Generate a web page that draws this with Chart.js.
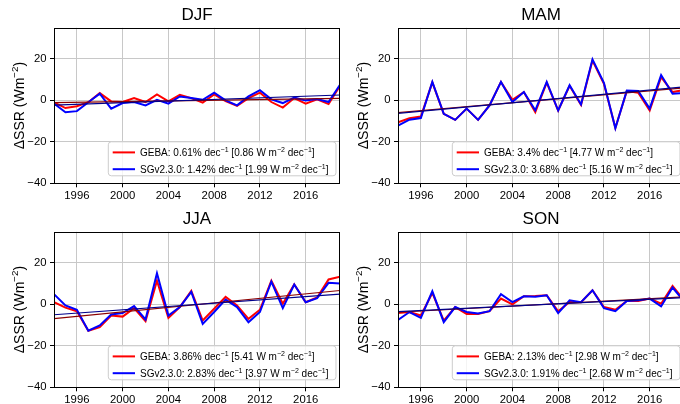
<!DOCTYPE html>
<html><head><meta charset="utf-8">
<script src="https://cdn.jsdelivr.net/npm/chart.js@4.4.0/dist/chart.umd.min.js"></script>
<style>
html,body{margin:0;padding:0;background:#fff;overflow:hidden;}
#wrap{position:relative;width:680px;height:404px;overflow:hidden;background:#fff;}
canvas{position:absolute;}
</style></head><body>
<div id="wrap">
<canvas id="c0" width="342" height="200" style="left:0px;top:0px"></canvas>
<canvas id="c1" width="342" height="200" style="left:344px;top:0px"></canvas>
<canvas id="c2" width="342" height="200" style="left:0px;top:204px"></canvas>
<canvas id="c3" width="342" height="200" style="left:344px;top:204px"></canvas>
</div>
<script>
// ---------- data ----------
const years = [1994,1995,1996,1997,1998,1999,2000,2001,2002,2003,2004,2005,2006,2007,2008,2009,2010,2011,2012,2013,2014,2015,2016,2017,2018,2019];
const seasons = ['DJF','MAM','JJA','SON'];

const gebaDJF = [-1.0,-3.7,-2.8,-0.9,3.5,-0.5,-0.8,1.1,-0.8,2.9,-0.5,2.7,1.1,-1.1,2.9,-0.3,-2.7,1.1,3.7,-0.8,-3.5,1.1,-1.6,0.5,-1.8,7.0];
const sgDJF   = [-1.5,-5.7,-5.2,-0.9,3.2,-4.0,-1.3,-0.8,-2.4,0.3,-1.6,1.9,1.1,0.3,3.7,0.0,-2.4,1.9,4.9,0.5,-1.3,1.3,0.0,0.7,-0.8,7.5];
const gebaMAM = [-10.6,-8.6,-7.8,8.7,-6.5,-9.4,-4.0,-9.4,-2.4,8.9,0.3,4.0,-5.7,8.5,-4.9,7.0,-2.2,19.2,8.0,-13.3,4.5,3.7,-4.9,11.2,4.0,5.0];
const sgMAM   = [-12.2,-9.3,-8.5,8.9,-6.5,-9.4,-4.0,-9.4,-2.4,8.9,-0.8,4.0,-4.8,8.9,-4.9,7.3,-2.0,19.8,8.5,-13.5,4.7,4.5,-4.0,12.2,3.2,3.5];
const gebaJJA = [1.1,-1.6,-3.3,-12.7,-11.0,-5.4,-5.9,-1.8,-8.1,11.4,-6.5,-1.3,6.5,-7.8,-2.1,3.6,-0.5,-7.0,-2.6,11.4,0.3,9.6,1.0,3.3,12.0,13.3];
const sgJJA   = [4.9,-0.5,-2.6,-12.7,-10.2,-4.9,-4.2,-0.8,-7.3,15.0,-5.4,-1.3,6.0,-9.4,-3.7,2.3,-1.3,-8.6,-3.7,11.0,-1.8,9.6,1.0,3.0,10.4,10.1];
const gebaSON = [-4.2,-3.7,-5.4,5.5,-7.8,-1.3,-4.6,-4.6,-3.3,2.8,0.0,3.9,4.0,4.4,-3.3,1.1,1.0,6.8,-1.3,-2.6,1.6,1.6,2.8,0.3,8.9,2.0];
const sgSON   = [-7.5,-3.7,-6.5,6.3,-8.6,-1.3,-3.7,-4.4,-3.3,4.9,1.1,3.9,3.7,4.4,-4.2,2.0,1.0,6.8,-1.8,-3.3,1.6,2.0,2.8,-1.0,8.1,1.5];

const trendYears = [1994, 2019];
const gebaTrendDJF = [-1.1, 1.0];
const sgTrendDJF   = [-2.3, 2.6];
const gebaTrendMAM = [-5.9, 6.0];
const sgTrendMAM   = [-6.3, 6.5];
const gebaTrendJJA = [-6.9, 6.7];
const sgTrendJJA   = [-5.0, 4.9];
const gebaTrendSON = [-3.8, 3.6];
const sgTrendSON   = [-3.5, 3.3];

const gebaPct = ['0.61','3.4','3.86','2.13'];
const gebaAbs = ['0.86','4.77','5.41','2.98'];
const sgPct   = ['1.42','3.68','2.83','1.91'];
const sgAbs   = ['1.99','5.16','3.97','2.68'];

const xTicks = [1996,2000,2004,2008,2012,2016];
const yTicks = [-40,-20,0,20];

// ---------- drawing ----------
const FONT = '"Liberation Sans", Arial, Helvetica, sans-serif';

function rich(ctx, segs, x, y, size, draw) {
  let cx = x;
  for (const s of segs) {
    const fs = s.sup ? size * 0.7 : size;
    ctx.font = fs + 'px ' + FONT;
    if (draw) ctx.fillText(s.t, cx, s.sup ? y - size * 0.38 : y);
    cx += ctx.measureText(s.t).width;
  }
  return cx - x;
}

function legendSegs(name, pct, abs) {
  return [
    {t: name + ': ' + pct + '% dec'}, {t: '\u22121', sup: true},
    {t: ' [' + abs + ' W m'}, {t: '\u22122', sup: true},
    {t: ' dec'}, {t: '\u22121', sup: true}, {t: ']'}
  ];
}

function roundRect(ctx, x, y, w, h, r) {
  ctx.beginPath();
  ctx.moveTo(x + r, y);
  ctx.arcTo(x + w, y, x + w, y + h, r);
  ctx.arcTo(x + w, y + h, x, y + h, r);
  ctx.arcTo(x, y + h, x, y, r);
  ctx.arcTo(x, y, x + w, y, r);
  ctx.closePath();
}

function framePlugin(idx) {
  return {
    id: 'frame' + idx,
    afterDatasetsDraw(chart) {
      const ctx = chart.ctx, a = chart.chartArea;
      ctx.save();
      // full box spines
      ctx.strokeStyle = '#000';
      ctx.lineWidth = 1;
      ctx.strokeRect(Math.round(a.left) + 0.5, Math.round(a.top) + 0.5,
                     Math.round(a.right) - Math.round(a.left) - 1, Math.round(a.bottom) - Math.round(a.top));
      // y-axis title
      ctx.fillStyle = '#000';
      ctx.textBaseline = 'alphabetic';
      ctx.textAlign = 'left';
      const ySegs = [{t: '\u0394SSR (Wm'}, {t: '\u22122', sup: true}, {t: ')'}];
      const ysz = 14;
      const yw = rich(ctx, ySegs, 0, 0, ysz, false);
      ctx.save();
      ctx.translate(23.5, (a.top + a.bottom) / 2);
      ctx.rotate(-Math.PI / 2);
      rich(ctx, ySegs, -yw / 2, 0, ysz, true);
      ctx.restore();
      // legend
      const fs = 10;
      const s1 = legendSegs('GEBA', gebaPct[idx], gebaAbs[idx]);
      const s2 = legendSegs('SGv2.3.0', sgPct[idx], sgAbs[idx]);
      const w1 = rich(ctx, s1, 0, 0, fs, false), w2 = rich(ctx, s2, 0, 0, fs, false);
      const bx = a.left + 54.3, bh = 34, by = a.bottom - 7.5 - bh;
      const bw = 31.7 + Math.max(w1, w2) + 7.5;
      roundRect(ctx, bx, by, bw, bh, 3);
      ctx.fillStyle = 'rgba(255,255,255,0.8)';
      ctx.fill();
      ctx.strokeStyle = '#cccccc';
      ctx.lineWidth = 1;
      ctx.stroke();
      const rows = [[s1, '#ff0000', by + 10.6], [s2, '#0000ff', by + 27.4]];
      for (const [segs, col, cy] of rows) {
        ctx.strokeStyle = col;
        ctx.lineWidth = 2;
        ctx.beginPath();
        ctx.moveTo(bx + 4.4, cy);
        ctx.lineTo(bx + 26.7, cy);
        ctx.stroke();
        ctx.fillStyle = '#000';
        rich(ctx, segs, bx + 31.7, cy + 3.6, fs, true);
      }
      ctx.restore();
    }
  };
}

function pts(xs, ys) { return xs.map((x, i) => ({x: x, y: ys[i]})); }

function makeChart(idx, geba, sg, gT, sT) {
  new Chart(document.getElementById('c' + idx), {
    type: 'line',
    data: {
      datasets: [
        {label: 'GEBA', data: pts(years, geba), borderColor: '#ff0000', borderWidth: 2, pointRadius: 0, tension: 0, fill: false, order: 4},
        {label: 'SGv2.3.0', data: pts(years, sg), borderColor: '#0000ff', borderWidth: 2, pointRadius: 0, tension: 0, fill: false, order: 3},
        {label: 'GEBA trend', data: pts(trendYears, gT), borderColor: '#8b0000', borderWidth: 1.2, pointRadius: 0, fill: false, order: 2},
        {label: 'SGv2.3.0 trend', data: pts(trendYears, sT), borderColor: '#00008b', borderWidth: 1.2, pointRadius: 0, fill: false, order: 1}
      ]
    },
    options: {
      responsive: false,
      animation: false,
      devicePixelRatio: 1,
      layout: {padding: {left: 0, right: 2, top: 0, bottom: 0}},
      plugins: {
        legend: {display: false},
        tooltip: {enabled: false},
        title: {
          display: true, text: seasons[idx], fullSize: false, color: '#000',
          font: {family: FONT, size: 17, weight: 'normal', lineHeight: 1.2},
          padding: {top: 5, bottom: 2.4}
        }
      },
      scales: {
        x: {
          type: 'linear', min: 1994, max: 2019,
          afterBuildTicks: s => { s.ticks = xTicks.map(v => ({value: v})); },
          afterFit: s => { s.height = 16.7; },
          grid: {color: '#c8c8c8', lineWidth: 1, tickLength: 4, tickColor: '#000', tickWidth: 1, drawTicks: true},
          border: {display: false},
          ticks: {color: '#000', font: {family: FONT, size: 11.3}, padding: 2, maxRotation: 0, autoSkip: false, callback: v => String(v)}
        },
        y: {
          type: 'linear', min: -40, max: 35,
          afterBuildTicks: s => { s.ticks = yTicks.map(v => ({value: v})); },
          afterFit: s => { s.width = 54; },
          grid: {color: '#c8c8c8', lineWidth: 1, tickLength: 4, tickColor: '#000', tickWidth: 1, drawTicks: true},
          border: {display: false},
          ticks: {color: '#000', font: {family: FONT, size: 11.3}, padding: 3.5, callback: v => (v < 0 ? '\u2212' + Math.abs(v) : String(v))}
        }
      }
    },
    plugins: [framePlugin(idx)]
  });
}

makeChart(0, gebaDJF, sgDJF, gebaTrendDJF, sgTrendDJF);
makeChart(1, gebaMAM, sgMAM, gebaTrendMAM, sgTrendMAM);
makeChart(2, gebaJJA, sgJJA, gebaTrendJJA, sgTrendJJA);
makeChart(3, gebaSON, sgSON, gebaTrendSON, sgTrendSON);
</script>
</body></html>
